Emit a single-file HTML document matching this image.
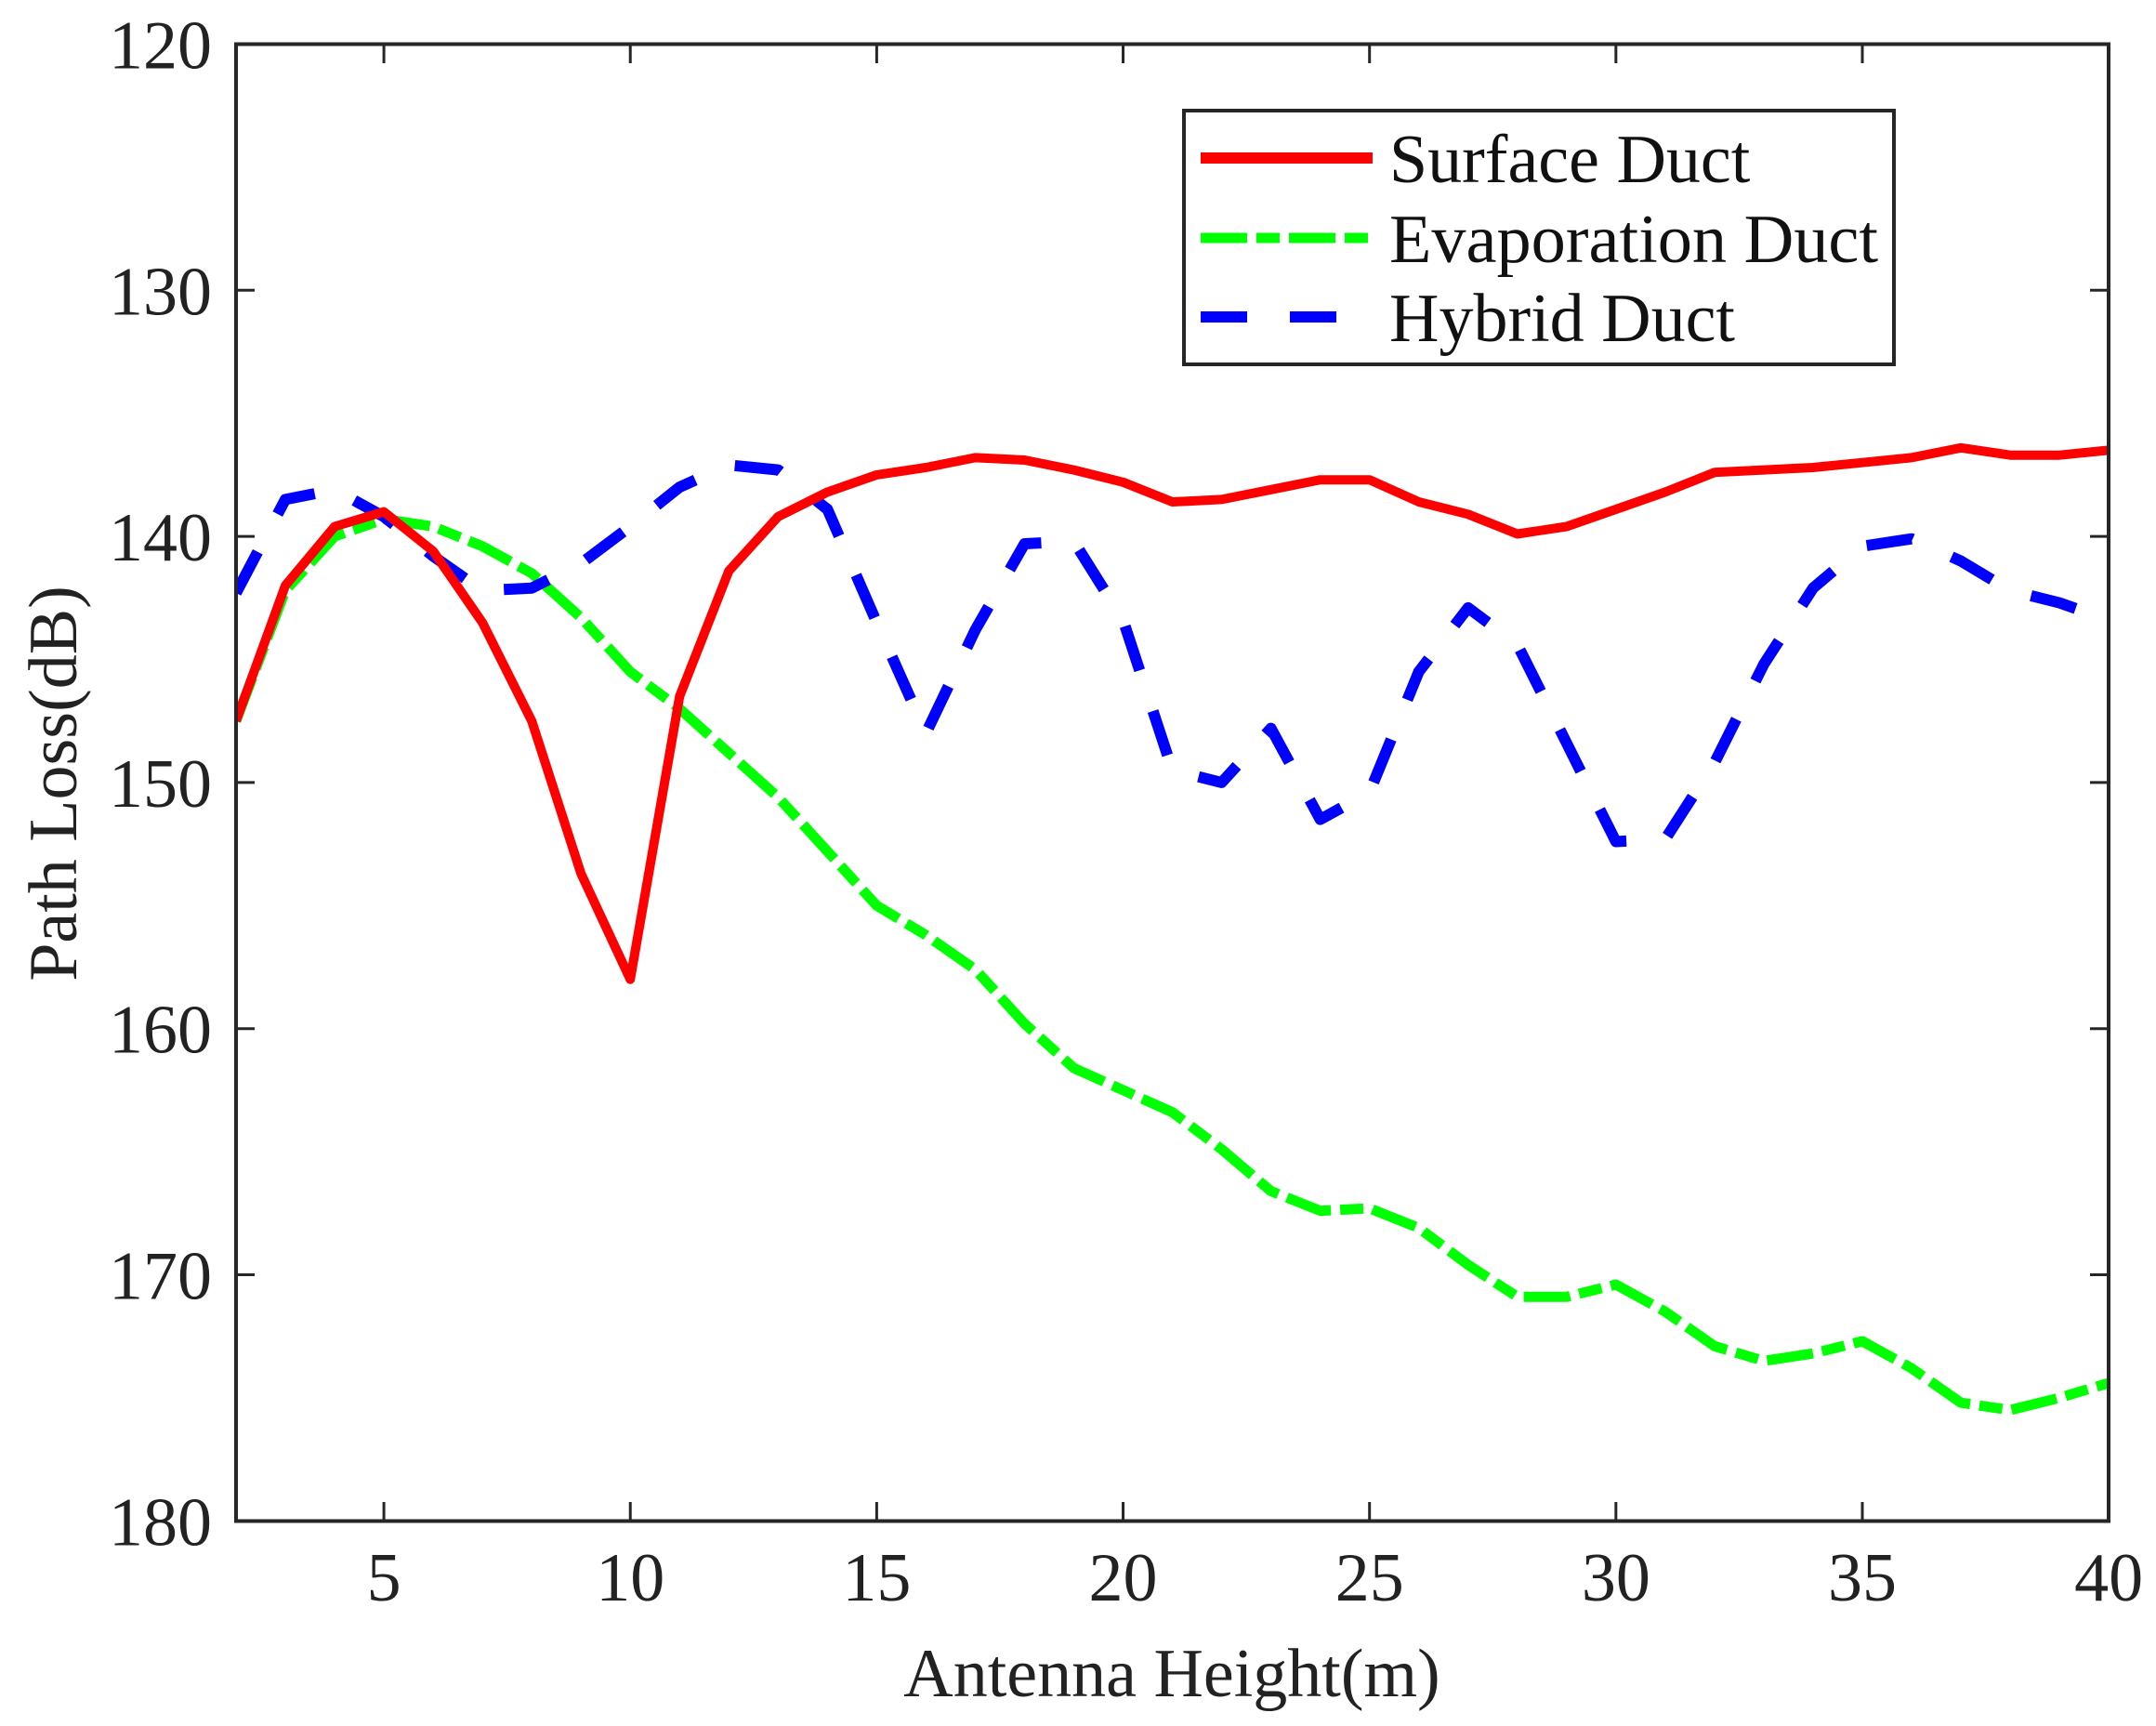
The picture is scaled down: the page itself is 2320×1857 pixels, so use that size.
<!DOCTYPE html>
<html><head><meta charset="utf-8"><style>
html,body{margin:0;padding:0;background:#fff;}
svg{display:block;font-family:"Liberation Serif",serif;}
</style></head><body>
<svg width="2320" height="1857" viewBox="0 0 2320 1857" xmlns="http://www.w3.org/2000/svg">
<defs><clipPath id="c"><rect x="254" y="47" width="2016" height="1590"/></clipPath></defs>
<g id="plot"></g>
<rect x="254" y="47.5" width="2015" height="1589" fill="none" stroke="#262626" stroke-width="4"/>
<g stroke="#262626" stroke-width="3" id="ticks"></g>
<g font-size="74" fill="#222" id="labels"></g>
<text x="1261" y="1825" font-size="74" fill="#222" text-anchor="middle">Antenna Height(m)</text>
<text transform="translate(82,843) rotate(-90)" font-size="74" fill="#222" text-anchor="middle">Path Loss(dB)</text>
<rect x="1274" y="119" width="764" height="273" fill="#fff" stroke="#262626" stroke-width="4"/>
<line x1="1292" y1="170" x2="1477" y2="170" stroke="#f00" stroke-width="12"/>
<line x1="1292" y1="256" x2="1477" y2="256" stroke="#0f0" stroke-width="11" stroke-dasharray="50 10 25 10"/>
<line x1="1292" y1="341" x2="1477" y2="341" stroke="#00f" stroke-width="12" stroke-dasharray="50 46"/>
<text x="1495" y="196" font-size="74" fill="#111">Surface Duct</text>
<text x="1495" y="282" font-size="74" fill="#111" textLength="526" lengthAdjust="spacingAndGlyphs">Evaporation Duct</text>
<text x="1495" y="367" font-size="74" fill="#111">Hybrid Duct</text>
</svg>
<script>
var X=function(v){return 254+(v-2)*53.03;},Y=function(d){return 47.5+(d-120)*26.48;};
var red=[147.5,142,139.6,139,140.6,143.5,147.5,153.7,158,146.5,141.4,139.2,138.2,137.5,137.2,136.8,136.9,137.3,137.8,138.6,138.5,138.1,137.7,137.7,138.6,139.1,139.9,139.6,138.9,138.2,137.4,137.3,137.2,137,136.8,136.4,136.7,136.7,136.5];
var green=[147.5,142.2,140,139.3,139.6,140.4,141.5,143.3,145.5,147,148.8,150.6,152.8,155,156.2,157.6,159.8,161.6,162.5,163.4,164.9,166.6,167.4,167.3,168.1,169.6,170.9,170.9,170.4,171.5,172.9,173.5,173.2,172.7,173.8,175.2,175.5,175,174.4];
var blue=[142.3,138.5,138.1,139.2,140.8,142.2,142.1,141.1,139.6,138,137.1,137.3,138.9,143.5,148,143.8,140.3,140.2,143.4,149.5,150,147.8,151.5,150.4,145.5,142.9,144.4,148.4,152.4,152.3,149.2,145.2,142.1,140.4,140.1,141,142.2,142.7,143.4];
function pts(a){return a.map(function(d,i){return X(i+2).toFixed(1)+","+Y(d).toFixed(1);}).join(" ");}
var ns="http://www.w3.org/2000/svg",g=document.getElementById("plot");
g.setAttribute("clip-path","url(#c)");
function pl(a,c,w,da){var p=document.createElementNS(ns,"polyline");p.setAttribute("points",pts(a));p.setAttribute("fill","none");p.setAttribute("stroke",c);p.setAttribute("stroke-width",w);p.setAttribute("stroke-linejoin","round");if(da)p.setAttribute("stroke-dasharray",da);g.appendChild(p);}
pl(green,"#0f0",11,"50 10 25 10");pl(blue,"#00f",12,"50 46");pl(red,"#f00",10,null);
var t=document.getElementById("ticks"),L=document.getElementById("labels");
function ln(a,b,c,d){var l=document.createElementNS(ns,"line");l.setAttribute("x1",a);l.setAttribute("y1",b);l.setAttribute("x2",c);l.setAttribute("y2",d);t.appendChild(l);}
function tx(x,y,s,anc){var e=document.createElementNS(ns,"text");e.setAttribute("x",x);e.setAttribute("y",y);e.setAttribute("text-anchor",anc);e.textContent=s;L.appendChild(e);}
for(var v=5;v<=40;v+=5){var x=X(v);ln(x,1636,x,1616);ln(x,48,x,68);tx(x,1722,""+v,"middle");}
for(var d=120;d<=180;d+=10){var y=Y(d);ln(254,y,274,y);ln(2269,y,2249,y);tx(228,y+26,""+d,"end");}
</script>
</body></html>
